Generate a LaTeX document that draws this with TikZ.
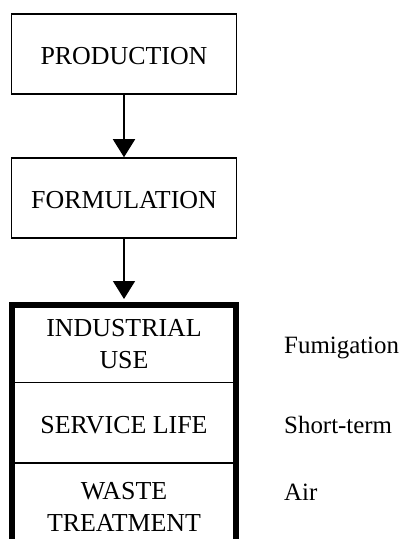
\documentclass[tikz,border=0pt]{standalone}
\usepackage{fontspec}
\setmainfont{Liberation Serif}
\usetikzlibrary{arrows.meta}
\begin{document}
\begin{tikzpicture}[x=1bp,y=-1bp,
  stagetext/.style={font=\fontsize{26}{32}\selectfont, text height=21bp, text depth=0pt},
  twoline/.style={text height=53.2bp},
  stagebox/.style={stagetext, draw, line width=1.5bp, minimum width=225bp,
    minimum height=80bp, inner sep=0pt},
  frame/.style={draw, line width=6bp, minimum width=224bp, inner sep=0pt},
  cell/.style={stagetext, minimum width=224bp, inner sep=0pt, align=center},
  divider/.style={line width=1.5bp},
  flow/.style={line width=1.5bp, -{Triangle[length=18bp,width=22bp]}},
  note/.style={anchor=base west, inner sep=0pt, font=\fontsize{25}{30}\selectfont}]
\useasboundingbox (0,0) rectangle (409,539);
\clip (0,0) rectangle (409,539);

% upstream stages
\node[stagebox] (prod) at (124,54) {PRODUCTION};
\node[stagebox] (form) at (124,198) {FORMULATION};

% heavy frame around the use stages, running off the bottom edge
\node[frame, minimum height=260bp, anchor=north] (use) at (124,302) {};

% use stages stacked inside the frame
\node[cell, twoline, minimum height=80bp, anchor=north] (ind) at (use.north) {INDUSTRIAL\\USE};
\node[cell, minimum height=80bp, anchor=north] (svc) at (ind.south) {SERVICE LIFE};
\node[cell, twoline, minimum height=83bp, anchor=north] (waste) at (svc.south) {WASTE\\TREATMENT};
\draw[divider] (ind.south west) -- (ind.south east);
\draw[divider] (svc.south west) -- (svc.south east);

% flow arrows
\draw[flow] (prod) -- (form);
\draw[flow, shorten >=3bp] (form) -- (use);

% labels beside the use stages
\node[note] (fum) at (284,353) {Fumigation};
\node[note] (short) at (284,433) {Short-term};
\node[note] (air) at (284,500) {Air};
\end{tikzpicture}
\end{document}
